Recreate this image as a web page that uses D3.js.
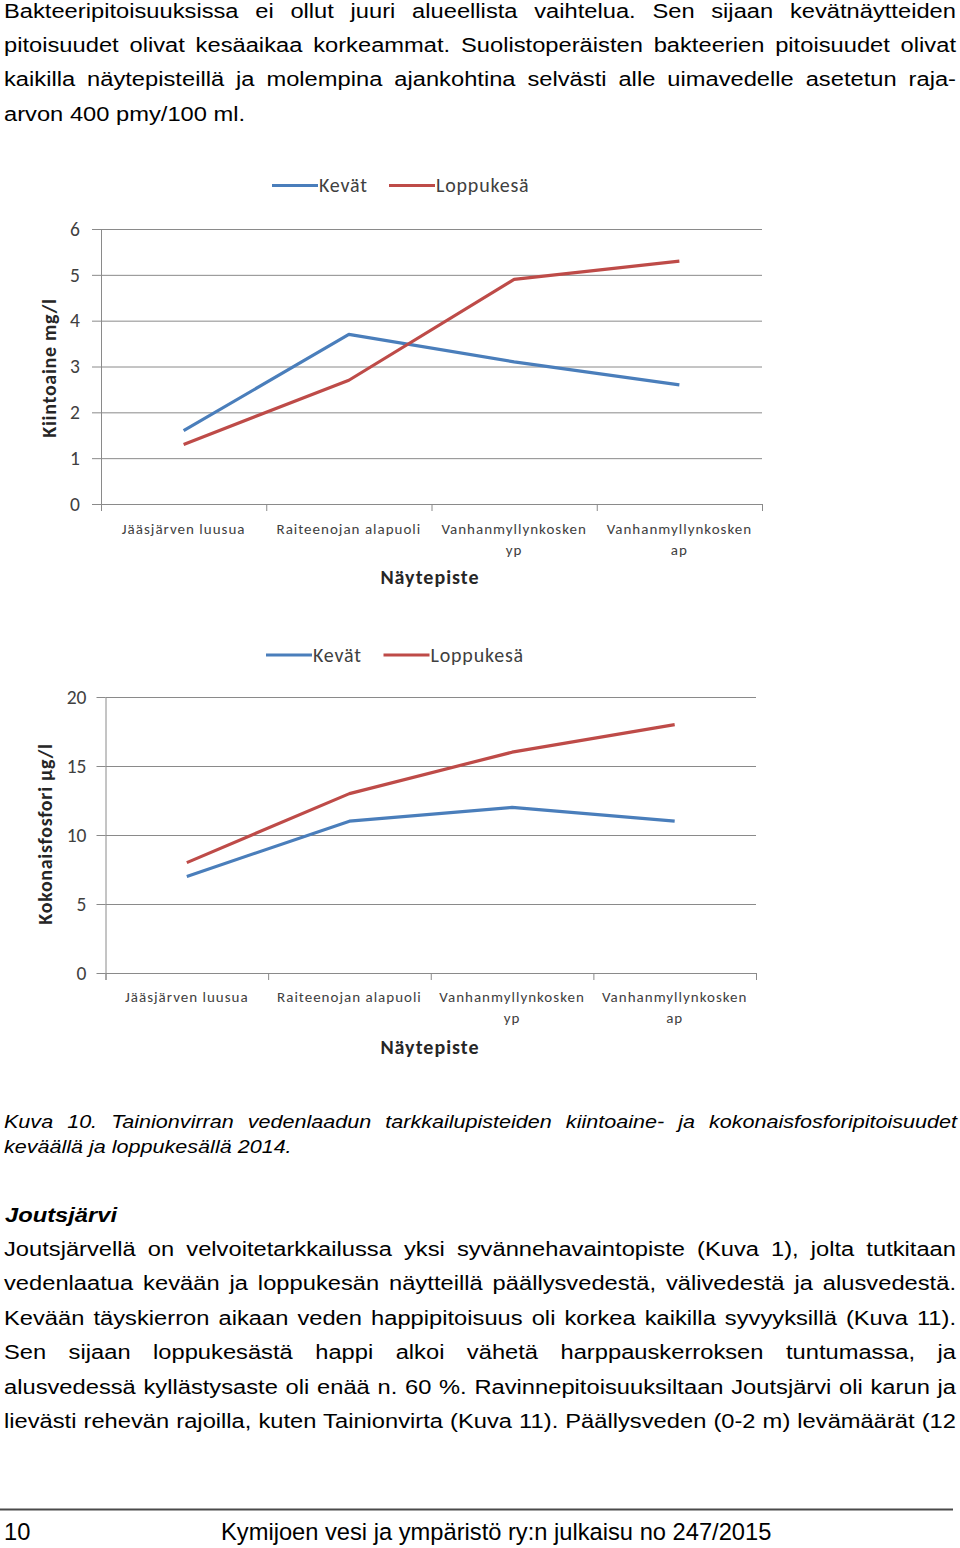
<!DOCTYPE html>
<html><head><meta charset="utf-8">
<script src="https://cdn.jsdelivr.net/npm/d3@7/dist/d3.min.js"></script>
<style>
html,body{margin:0;padding:0;background:#fff;}
svg{display:block;}
</style></head>
<body>
<svg id="page" width="960" height="1548"></svg>
<script>
// ---------- data ----------
const categories = ["Jääsjärven luusua", "Raiteenojan alapuoli", "Vanhanmyllynkosken yp", "Vanhanmyllynkosken ap"];
const seriesNames = ["Kevät", "Loppukesä"];
const kiintoaineKevat = [1.6, 3.7, 3.1, 2.6];
const kiintoaineLoppukesa = [1.3, 2.7, 4.9, 5.3];
const fosforiKevat = [7, 11, 12, 11];
const fosforiLoppukesa = [8, 13, 16, 18];
const kiintoaineTicks = [0, 1, 2, 3, 4, 5, 6];
const fosforiTicks = [0, 5, 10, 15, 20];
const xTitle = "Näytepiste";
const kiintoaineTitle = "Kiintoaine mg/l";
const fosforiTitle = "Kokonaisfosfori µg/l";

const para1 = [
 "Bakteeripitoisuuksissa ei ollut juuri alueellista vaihtelua. Sen sijaan kevätnäytteiden",
 "pitoisuudet olivat kesäaikaa korkeammat. Suolistoperäisten bakteerien pitoisuudet olivat",
 "kaikilla näytepisteillä ja molempina ajankohtina selvästi alle uimavedelle asetetun raja-",
 "arvon 400 pmy/100 ml."
];
const caption = [
 "Kuva 10. Tainionvirran vedenlaadun tarkkailupisteiden kiintoaine- ja kokonaisfosforipitoisuudet",
 "keväällä ja loppukesällä 2014."
];
const heading = "Joutsjärvi";
const para2 = [
 "Joutsjärvellä on velvoitetarkkailussa yksi syvännehavaintopiste (Kuva 1), jolta tutkitaan",
 "vedenlaatua kevään ja loppukesän näytteillä päällysvedestä, välivedestä ja alusvedestä.",
 "Kevään täyskierron aikaan veden happipitoisuus oli korkea kaikilla syvyyksillä (Kuva 11).",
 "Sen sijaan loppukesästä happi alkoi vähetä harppauskerroksen tuntumassa, ja",
 "alusvedessä kyllästysaste oli enää n. 60 %. Ravinnepitoisuuksiltaan Joutsjärvi oli karun ja",
 "lievästi rehevän rajoilla, kuten Tainionvirta (Kuva 11). Päällysveden (0-2 m) levämäärät (12"
];
const footerPage = "10";
const footerText = "Kymijoen vesi ja ympäristö ry:n julkaisu no 247/2015";

// ---------- styles ----------
const colors = ["#4A7EBB", "#BE4B48"];
const gridColor = "#8a8a8a";
const chartFont = "Carlito, Calibri, Lato, sans-serif";
const bodyFont = "Helvetica, 'Liberation Sans', Arial, sans-serif";

const svg = d3.select("#page");

// ---------- text helper ----------
function textBlock(lines, opt) {
  const g = svg.append("g").attr("transform", `scale(${opt.sx},1)`);
  lines.forEach((str, i) => {
    const t = g.append("text")
      .attr("x", opt.x / opt.sx)
      .attr("y", opt.y + i * opt.lh)
      .attr("font-family", bodyFont)
      .attr("font-size", opt.size)
      .attr("font-style", opt.italic ? "italic" : null)
      .attr("font-weight", opt.bold ? "bold" : null)
      .attr("fill", "#000")
      .text(str);
    const justify = opt.justify && opt.justify[i];
    if (justify) {
      const len = t.node().getComputedTextLength();
      const spaces = (str.match(/ /g) || []).length;
      const target = (opt.right - opt.x) / opt.sx;
      if (spaces > 0) t.attr("word-spacing", (target - len) / spaces);
    }
  });
}

textBlock(para1, {x: 4, right: 956, y: 17.5, lh: 34.4, size: 19.6, sx: 1.21, justify: [1, 1, 1, 0]});
textBlock(caption, {x: 4, right: 957, y: 1128.5, lh: 25, size: 18.6, sx: 1.16, italic: true, justify: [1, 0]});
textBlock([heading], {x: 5, y: 1222.5, lh: 0, size: 19.6, sx: 1.21, italic: true, bold: true});
textBlock(para2, {x: 4, right: 956, y: 1256, lh: 34.4, size: 19.6, sx: 1.21, justify: [1, 1, 1, 1, 1, 1]});

// footer
svg.append("line").attr("x1", 0).attr("x2", 953).attr("y1", 1509.5).attr("y2", 1509.5)
  .attr("stroke", "#4a4a4a").attr("stroke-width", 2);
svg.append("text").attr("x", 4).attr("y", 1540).attr("font-family", bodyFont).attr("font-size", 23.7)
  .text(footerPage);
svg.append("text").attr("x", 221).attr("y", 1540).attr("font-family", bodyFont).attr("font-size", 23.7)
  .text(footerText);

// ---------- chart ----------
function drawChart(cfg) {
  const g = svg.append("g").attr("font-family", chartFont);
  const x = d3.scaleBand().domain(categories).range([cfg.left, cfg.right]).padding(0);
  const xb = d3.scaleLinear().domain([0, categories.length]).range([cfg.left, cfg.right]);
  const y = d3.scaleLinear().domain([cfg.ticks[0], cfg.ticks[cfg.ticks.length - 1]]).range([cfg.bottom, cfg.top]);

  // gridlines
  const grid = g.append("g").attr("transform", `translate(${cfg.left},0)`)
    .call(d3.axisLeft(y).tickValues(cfg.ticks).tickSize(-(cfg.right - cfg.left)).tickFormat(""));
  grid.select(".domain").remove();
  grid.selectAll("line").attr("stroke", gridColor).attr("stroke-width", 1);

  // y axis
  const ya = g.append("g").attr("transform", `translate(${cfg.left},0)`)
    .call(d3.axisLeft(y).tickValues(cfg.ticks).tickFormat(d3.format("d"))
      .tickSize(9).tickSizeOuter(0).tickPadding(cfg.tickPad));
  ya.select(".domain").attr("stroke", gridColor);
  ya.selectAll("line").attr("stroke", gridColor);
  ya.selectAll("text").attr("font-size", 19.5).attr("fill", "#404040").attr("font-family", chartFont);

  // x axis (ticks at category boundaries)
  const xa = g.append("g").attr("transform", `translate(0,${cfg.bottom})`)
    .call(d3.axisBottom(xb).tickValues(d3.range(categories.length + 1)).tickSize(7).tickFormat(""));
  xa.select(".domain").attr("stroke", gridColor);
  xa.selectAll("line").attr("stroke", gridColor);

  // x labels
  const xl = g.append("g").attr("transform", `translate(0,${cfg.bottom})`)
    .call(d3.axisBottom(x).tickSize(0).tickPadding(0));
  xl.select(".domain").remove();
  xl.selectAll(".tick text").each(function(d) {
    const t = d3.select(this);
    t.text(null).attr("font-size", 15).attr("fill", "#404040").attr("font-family", chartFont)
      .attr("letter-spacing", 1.0).attr("dy", null).attr("y", cfg.labelDy);
    t.append("tspan").attr("x", 0).text(d);
    if (this.getComputedTextLength() > x.bandwidth() - 8) {
      const idx = d.lastIndexOf(" ");
      t.text(null);
      t.append("tspan").attr("x", 0).text(d.slice(0, idx));
      t.append("tspan").attr("x", 0).attr("dy", 21).text(d.slice(idx + 1));
    }
  });

  // lines
  const line = d3.line().x((d, i) => x(categories[i]) + x.bandwidth() / 2).y(d => y(d));
  cfg.series.forEach((s, i) => {
    g.append("path").datum(s).attr("d", line).attr("fill", "none")
      .attr("stroke", colors[i]).attr("stroke-width", 3.2).attr("stroke-linejoin", "round");
  });

  // axis titles
  g.append("text").attr("x", cfg.xTitleX).attr("y", cfg.xTitleY).attr("text-anchor", "middle")
    .attr("font-weight", "bold").attr("font-size", 20).attr("letter-spacing", 1)
    .attr("fill", "#262626").text(xTitle);
  g.append("text").attr("transform", `translate(${cfg.yTitleX},${cfg.yTitleY}) rotate(-90)`)
    .attr("text-anchor", "middle").attr("font-weight", "bold").attr("font-size", 20)
    .attr("letter-spacing", 0.7).attr("fill", "#262626").text(cfg.yTitle);

  // legend
  cfg.legendX.forEach((lx, i) => {
    g.append("line").attr("x1", lx).attr("x2", lx + 46).attr("y1", cfg.legendY).attr("y2", cfg.legendY)
      .attr("stroke", colors[i]).attr("stroke-width", 3);
    g.append("text").attr("x", lx + 47).attr("y", cfg.legendY + 6.5).attr("font-size", 20)
      .attr("letter-spacing", 0.8).attr("fill", "#404040").text(seriesNames[i]);
  });
}

drawChart({
  left: 101, right: 762, top: 229, bottom: 504, ticks: kiintoaineTicks,
  series: [kiintoaineKevat, kiintoaineLoppukesa], tickPad: 12, labelDy: 30,
  xTitleX: 430, xTitleY: 584, yTitleX: 56, yTitleY: 368, yTitle: kiintoaineTitle,
  legendX: [272, 389], legendY: 185.5
});
drawChart({
  left: 105.5, right: 756, top: 697, bottom: 973, ticks: fosforiTicks,
  series: [fosforiKevat, fosforiLoppukesa], tickPad: 10, labelDy: 29,
  xTitleX: 430, xTitleY: 1054, yTitleX: 52, yTitleY: 834, yTitle: fosforiTitle,
  legendX: [266, 383.5], legendY: 655
});
</script>
</body></html>
